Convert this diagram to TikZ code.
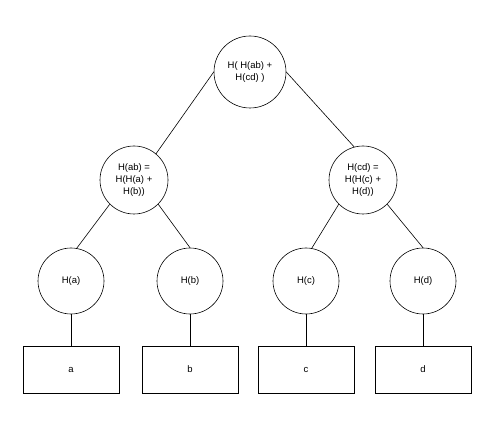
\documentclass[tikz,border=0pt]{standalone}
\usepackage{fontspec}
\setmainfont{Liberation Sans}
\begin{document}
\begin{tikzpicture}[x=1pt,y=1pt,
  hashnode/.style={circle,draw=black,line width=0.6pt,inner sep=0pt,align=center,font=\fontsize{9.5}{12}\selectfont},
  leafbox/.style={rectangle,draw=black,line width=0.7pt,minimum width=96pt,minimum height=47pt,inner sep=0pt,font=\fontsize{9.5}{12}\selectfont},
  link/.style={draw=black,line width=0.6pt}]
\useasboundingbox[fill=white] (0,0) rectangle (504,-433);
\node[hashnode,minimum size=72pt] (root) at (250,-72) {H( H(ab) +\\H(cd) )};
\node[hashnode,minimum size=68pt] (hab) at (134,-180) {H(ab) =\\H(H(a) +\\H(b))};
\node[hashnode,minimum size=68pt] (hcd) at (363,-180) {H(cd) =\\H(H(c) +\\H(d))};
\node[hashnode,minimum size=66pt] (ha) at (71,-281) {H(a)};
\node[hashnode,minimum size=66pt] (hb) at (190,-281) {H(b)};
\node[hashnode,minimum size=66pt] (hc) at (306,-281) {H(c)};
\node[hashnode,minimum size=66pt] (hd) at (423,-281) {H(d)};
\node[leafbox] (a) at (71,-369.5) {a};
\node[leafbox] (b) at (190,-369.5) {b};
\node[leafbox] (c) at (306,-369.5) {c};
\node[leafbox] (d) at (423,-369.5) {d};
\draw[link] (root.west) -- (hab.50);
\draw[link] (root.east) -- (hcd.105);
\draw[link] (hab.south west) -- (ha.80);
\draw[link] (hab.south east) -- (hb.north);
\draw[link] (hcd.south west) -- (hc.80);
\draw[link] (hcd.south east) -- (hd.north);
\draw[link] (ha) -- (a);
\draw[link] (hb) -- (b);
\draw[link] (hc) -- (c);
\draw[link] (hd) -- (d);
\end{tikzpicture}
\end{document}
